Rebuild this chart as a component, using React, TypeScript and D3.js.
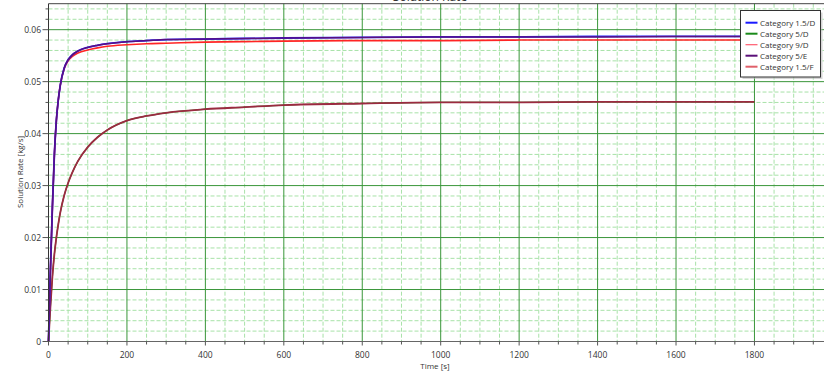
import React from "react";
import * as d3 from "d3";

const times = [0, 2, 5, 10, 15, 20, 25, 30, 40, 50, 60, 75, 100, 125, 150, 200, 250, 300, 400, 500, 600, 800, 1000, 1200, 1400, 1600, 1800];

const cat15D = [0, 0.0060, 0.0140, 0.0260, 0.0360, 0.0425, 0.0465, 0.0493, 0.0526, 0.0542, 0.0551, 0.0559, 0.0566, 0.0570, 0.0573, 0.0577, 0.0579, 0.0581, 0.0582, 0.0583, 0.0584, 0.0585, 0.0586, 0.0586, 0.0587, 0.0587, 0.0587];
const cat5E = [0, 0.0060, 0.0140, 0.0260, 0.0360, 0.0425, 0.0465, 0.0493, 0.0526, 0.0542, 0.0551, 0.0559, 0.0566, 0.0570, 0.0573, 0.0577, 0.0579, 0.0581, 0.0582, 0.0583, 0.0584, 0.0585, 0.0586, 0.0586, 0.0586, 0.0587, 0.0587];
const cat9D = [0, 0.0060, 0.0140, 0.0260, 0.0360, 0.0425, 0.0465, 0.0493, 0.0525, 0.0540, 0.0548, 0.0555, 0.0561, 0.0565, 0.0568, 0.0571, 0.0573, 0.0574, 0.0576, 0.0577, 0.0578, 0.0579, 0.0579, 0.0580, 0.0580, 0.0580, 0.0580];
const cat5D = [0, 0.0028, 0.0068, 0.0125, 0.0168, 0.0200, 0.0226, 0.0248, 0.0281, 0.0305, 0.0324, 0.0347, 0.0374, 0.0393, 0.0407, 0.0425, 0.0434, 0.0440, 0.0447, 0.0451, 0.0455, 0.0458, 0.0460, 0.0460, 0.0461, 0.0461, 0.0461];
const cat15F = [0, 0.0028, 0.0068, 0.0125, 0.0168, 0.0200, 0.0226, 0.0248, 0.0281, 0.0305, 0.0324, 0.0347, 0.0374, 0.0393, 0.0407, 0.0425, 0.0434, 0.0440, 0.0447, 0.0451, 0.0455, 0.0458, 0.0460, 0.0460, 0.0461, 0.0461, 0.0461];

const xTicks = [0, 200, 400, 600, 800, 1000, 1200, 1400, 1600, 1800];
const yTicks = [0, 0.01, 0.02, 0.03, 0.04, 0.05, 0.06];

const seriesNames = ["Category 1.5/D", "Category 5/D", "Category 9/D", "Category 5/E", "Category 1.5/F"];
const seriesColors = ["#2020ff", "#1a8a1a", "#ff2424", "#5a1080", "#9c2a40"];
const seriesWidths = [1.8, 1.2, 1.6, 1.5, 1.8];
const seriesData = [cat15D, cat5D, cat9D, cat5E, cat15F];
const legendSwatch = ["#1a1aff", "#1a8a1a", "#ff5a6e", "#5a0f78", "#e0606a"];

const W = 824;
const H = 378;
const left = 48.5;
const yZero = 341.5;
const font = "'Open Sans', 'Segoe UI', sans-serif";

export default function App() {
  const x = d3.scaleLinear().domain([0, 2000]).range([left, left + 784.4]);
  const y = d3.scaleLinear().domain([0, 0.065]).range([yZero, yZero - 0.065 * 5197]);
  const top = y(0.065);

  const xMinor = d3.range(0, 2001, 50);
  const yMinor = d3.range(0, 0.0651, 0.002).map((v) => +v.toFixed(4));
  const isMajorY = (v: number) => Math.abs(v * 100 - Math.round(v * 100)) < 1e-6;

  const line = (vals: number[]) =>
    d3
      .line<number>()
      .x((_, i) => x(times[i]))
      .y((v) => y(v))
      .curve(d3.curveMonotoneX)(vals) as string;

  const order = [1, 4, 2, 0, 3];

  return (
    <div style={{ position: "fixed", left: 0, top: 0, width: W, height: H, background: "#fff" }}>
      <svg width={W} height={H} style={{ display: "block" }}>
        <rect x={0} y={0} width={W} height={H} fill="#fff" />
        <text x={430} y={1} textAnchor="middle" fontFamily={font} fontSize={12} fill="#333">
          Solution Rate
        </text>
        <g>
          {xMinor.filter((v) => v % 200 !== 0).map((v) => (
            <line key={"xm" + v} x1={x(v)} x2={x(v)} y1={top} y2={yZero} stroke="#a8e2a8" strokeWidth={1} strokeDasharray="4,2" />
          ))}
          {yMinor.filter((v) => !isMajorY(v)).map((v) => (
            <line key={"ym" + v} x1={left} x2={W} y1={y(v)} y2={y(v)} stroke="#a8e2a8" strokeWidth={1} strokeDasharray="4,2" />
          ))}
          {xTicks.filter((v) => v > 0).map((v) => (
            <line key={"xM" + v} x1={x(v)} x2={x(v)} y1={top} y2={yZero} stroke="#3a963a" strokeWidth={1} />
          ))}
          {yTicks.filter((v) => v > 0).map((v) => (
            <line key={"yM" + v} x1={left} x2={W} y1={y(v)} y2={y(v)} stroke="#3a963a" strokeWidth={1} />
          ))}
        </g>
        <line x1={left} x2={W} y1={top} y2={top} stroke="#444" strokeWidth={1} />
        <g>
          {order.map((i) => (
            <path key={seriesNames[i]} d={line(seriesData[i])} fill="none" stroke={seriesColors[i]} strokeWidth={seriesWidths[i]} />
          ))}
        </g>
        <line x1={left} x2={W} y1={yZero} y2={yZero} stroke="#666" strokeWidth={1} />
        <line x1={left} x2={left} y1={top} y2={yZero} stroke="#333" strokeWidth={1} />
        {xMinor.map((v) => (
          <line key={"xt" + v} x1={x(v)} x2={x(v)} y1={yZero} y2={yZero + (v % 200 === 0 ? 4 : 3)} stroke="#555" strokeWidth={1} />
        ))}
        {yMinor.map((v) => (
          <line key={"yt" + v} x1={left - (isMajorY(v) ? 6 : 3)} x2={left} y1={y(v)} y2={y(v)} stroke="#555" strokeWidth={1} />
        ))}
        {xTicks.map((v) => (
          <text key={"xl" + v} x={x(v)} y={358} textAnchor="middle" fontFamily={font} fontSize={8.5} fill="#333">
            {v}
          </text>
        ))}
        {yTicks.map((v) => (
          <text key={"yl" + v} x={41} y={y(v) + 3} textAnchor="end" fontFamily={font} fontSize={8.5} fill="#333">
            {v === 0 ? "0" : v.toFixed(2)}
          </text>
        ))}
        <text x={435} y={369} textAnchor="middle" fontFamily={font} fontSize={8} fill="#333">
          Time [s]
        </text>
        <text transform={`translate(23, 172) rotate(-90)`} textAnchor="middle" fontFamily={font} fontSize={8} fill="#333">
          Solution Rate [kg/s]
        </text>
        <g>
          <rect x={742.5} y={12.5} width={80} height={66.5} fill="#bbb" opacity={0.6} />
          <rect x={740.5} y={10.5} width={80} height={66.5} fill="#fff" stroke="#333" strokeWidth={1} />
          {seriesNames.map((n, i) => (
            <g key={"lg" + n} transform={`translate(0, ${22.7 + i * 11})`}>
              <line x1={745.5} x2={757.5} y1={0} y2={0} stroke={legendSwatch[i]} strokeWidth={i === 2 ? 1.2 : 2} />
              <text x={760} y={3} fontFamily={font} fontSize={8} fill="#333">
                {n}
              </text>
            </g>
          ))}
        </g>
      </svg>
    </div>
  );
}
